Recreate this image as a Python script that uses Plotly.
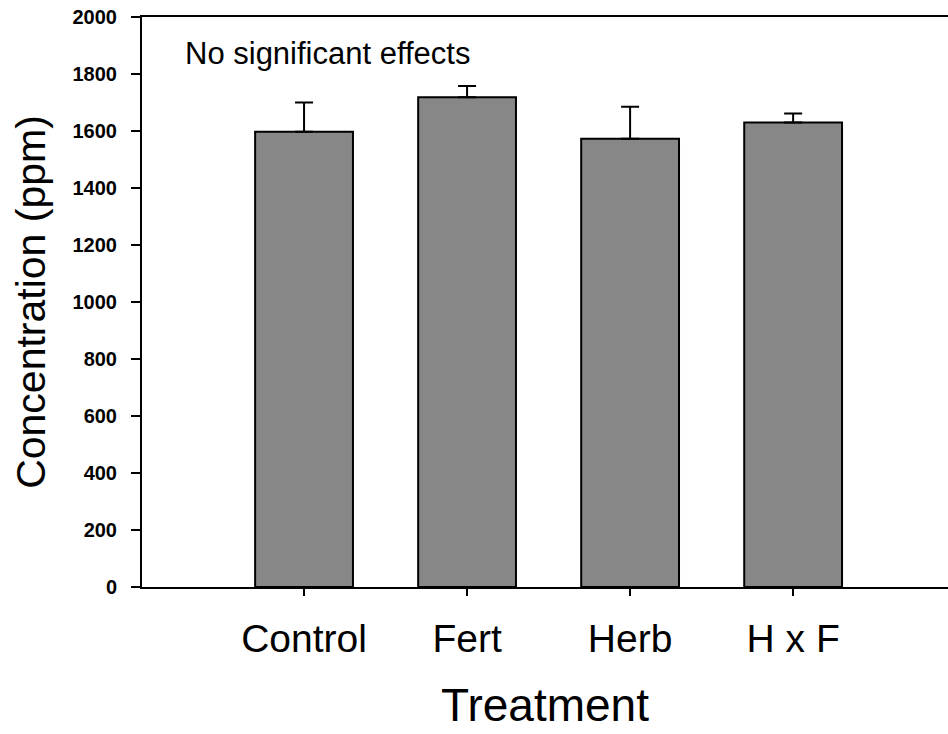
import plotly.graph_objects as go

treatments = ["Control", "Fert", "Herb", "H x F"]
concentration = [1597, 1718, 1573, 1630]
std_error = [103, 40, 112, 31]

y_ticks = [0, 200, 400, 600, 800, 1000, 1200, 1400, 1600, 1800, 2000]

FONT = "Liberation Sans, Arial, sans-serif"
PRETO = "#000000"

fig = go.Figure()
fig.add_trace(go.Bar(
    x=list(range(len(treatments))),
    y=concentration,
    width=0.6,
    marker=dict(color="#878787", line=dict(color=PRETO, width=2)),
    error_y=dict(type="data", array=std_error, arrayminus=[0] * len(std_error),
                 symmetric=False, color=PRETO, thickness=2, width=9),
))

fig.add_annotation(
    text="No significant effects", xref="x", yref="y",
    x=-0.745, y=1872, xanchor="left", yanchor="middle",
    showarrow=False, font=dict(family=FONT, size=31, color=PRETO),
)

fig.update_layout(
    width=948, height=734,
    plot_bgcolor="white", paper_bgcolor="white",
    margin=dict(l=142, r=0, t=17, b=147),
    showlegend=False,
    font=dict(family=FONT, color=PRETO),
)

fig.update_xaxes(
    range=[-0.994, 3.95],
    tickvals=list(range(len(treatments))), ticktext=treatments,
    tickfont=dict(family=FONT, size=39, color=PRETO),
    ticks="outside", ticklen=7, tickwidth=2, tickcolor=PRETO,
    ticklabelstandoff=9,
    showline=True, linecolor=PRETO, linewidth=2, mirror=True,
    showgrid=False, zeroline=False,
    title=dict(text="Treatment", font=dict(family=FONT, size=46, color=PRETO), standoff=30),
)
fig.update_yaxes(
    range=[0, 2000], tickvals=y_ticks,
    tickfont=dict(family=FONT, size=20, color=PRETO, weight="bold"),
    ticks="outside", ticklen=9, tickwidth=2, tickcolor=PRETO,
    ticklabelstandoff=10,
    showline=True, linecolor=PRETO, linewidth=2, mirror=False,
    showgrid=False, zeroline=False,
    title=dict(text="Concentration (ppm)", font=dict(family=FONT, size=41, color=PRETO), standoff=14),
)

# drop the default body margin so the figure fills the window exactly
fig.write_html("out.html", config={"displayModeBar": False},
               post_script="document.body.style.margin='0';")
